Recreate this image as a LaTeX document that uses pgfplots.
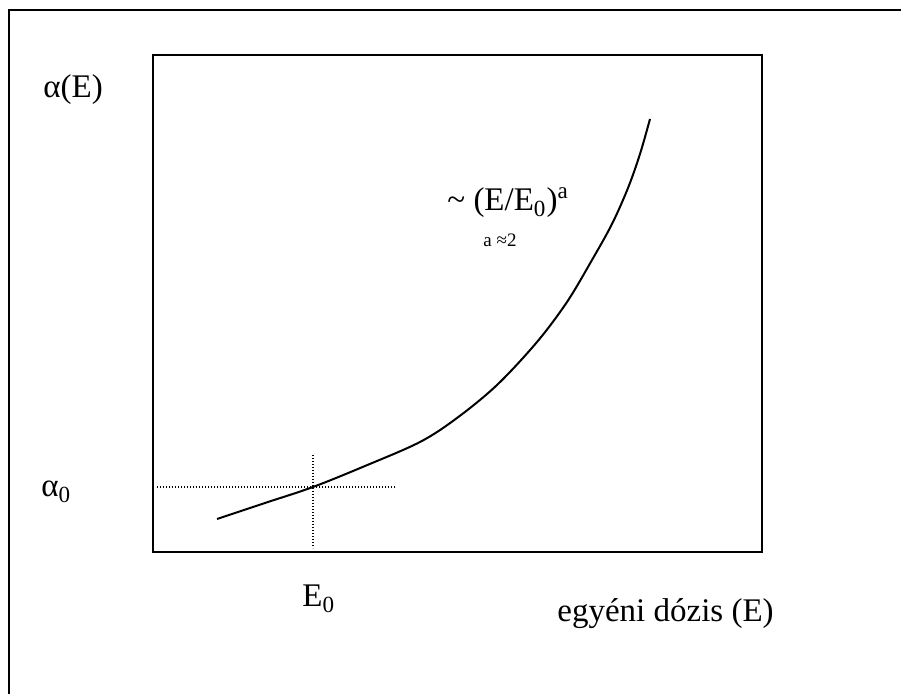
\documentclass[border=0pt]{standalone}
\usepackage{fontspec}
\setmainfont{Liberation Serif}
\usepackage{pgfplots}
\pgfplotsset{compat=1.18}
\begin{document}
\begin{tikzpicture}
% page area: 0.5pt per unit
\useasboundingbox (0,0) rectangle (450.5pt,347pt);
\begin{axis}[
  x=0.5pt, y=0.5pt,
  xmin=153, xmax=762, ymin=142, ymax=639,
  at={(76.5pt,71pt)}, anchor=south west,
  xtick=\empty, ytick=\empty,
  axis line style={line width=1pt},
  clip=false,
]
% outer frame
\draw[line width=1pt] (axis cs:9,-10) -- (axis cs:9,684) -- (axis cs:910,684);

% dose-response curve
\addplot[black, line width=1pt, smooth, tension=0.55] coordinates {
  (217,175) (265,191) (313,207) (365,228) (420,252) (457,276)
  (497,309) (537,352) (567,392) (592,434) (612,470) (628,506)
  (640,540) (650,575)
};

% reference point E0, alpha0
\addplot[black, line width=0.6pt, dash pattern=on 0.6pt off 0.9pt] coordinates {(157,207) (395,207)};
\addplot[black, line width=0.6pt, dash pattern=on 0.6pt off 0.9pt] coordinates {(313,239) (313,146)};

\fontsize{16.5}{19}\selectfont
\node[anchor=base west, inner sep=0pt] at (axis cs:43,596) {α(E)};
\node[anchor=base west, inner sep=0pt] at (axis cs:41,197) {α\textsubscript{0}};
\node[anchor=base west, inner sep=0pt] at (axis cs:302,87) {E\textsubscript{0}};
\node[anchor=base west, inner sep=0pt] at (axis cs:557,72) {egyéni dózis (E)};
\node[anchor=base west, inner sep=0pt] at (axis cs:447,483) {\textasciitilde{} (E/E\textsubscript{0})\textsuperscript{a}};
\node[anchor=base west, inner sep=0pt, font=\fontsize{9.5}{11}\selectfont] at (axis cs:483,447) {a ≈2};
\end{axis}
\end{tikzpicture}
\end{document}
